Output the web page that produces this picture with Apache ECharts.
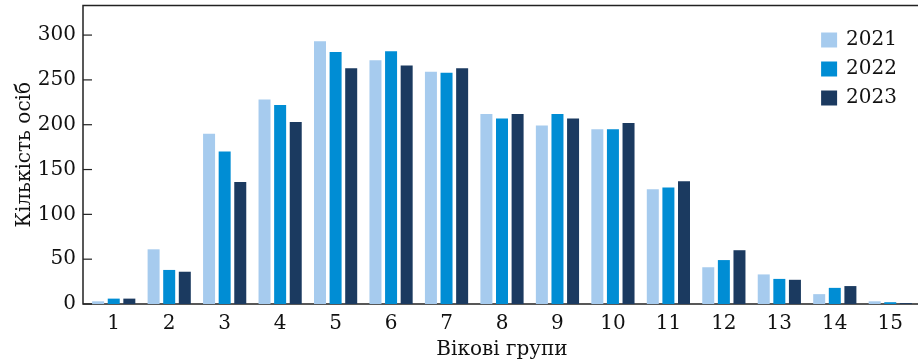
<!DOCTYPE html>
<html>
<head>
<meta charset="utf-8">
<script src="https://cdn.jsdelivr.net/npm/echarts@6/dist/echarts.min.js"></script>
<style>
html,body{margin:0;padding:0;background:#fff;}
#chart{width:918px;height:362px;}
</style>
</head>
<body>
<div id="chart"></div>
<script>
const categories = ['1','2','3','4','5','6','7','8','9','10','11','12','13','14','15'];
const seriesNames = ['2021','2022','2023'];
const values2021 = [3, 61, 190, 228, 293, 272, 259, 212, 199, 195, 128, 41, 33, 11, 3];
const values2022 = [6, 38, 170, 222, 281, 282, 258, 207, 212, 195, 130, 49, 28, 18, 2];
const values2023 = [6, 36, 136, 203, 263, 266, 263, 212, 207, 202, 137, 60, 27, 20, 1];
const colors = ['#A6CBEE', '#008DD4', '#1B3A60'];
const yTicks = [0, 50, 100, 150, 200, 250, 300];

const FONT = 'DejaVu Serif';
const FS = 20;
const chart = echarts.init(document.getElementById('chart'), null, {renderer: 'canvas'});
const allValues = [values2021, values2022, values2023];

chart.setOption({
  animation: false,
  backgroundColor: '#fff',
  textStyle: {fontFamily: FONT, color: '#111'},
  grid: {left: 86, right: 0, top: 5.5, bottom: 58, containLabel: false, outerBoundsMode: 'none'},
  legend: {
    orient: 'vertical',
    right: 16,
    top: 25,
    itemWidth: 16,
    itemHeight: 15,
    itemGap: 9,
    icon: 'rect',
    data: seriesNames,
    textStyle: {fontFamily: FONT, fontSize: FS, color: '#111', padding: [0, 0, 0, 4]}
  },
  xAxis: {
    type: 'category',
    data: categories,
    name: 'Вікові групи',
    nameLocation: 'middle',
    nameGap: 36,
    nameMoveOverlap: false,
    nameTextStyle: {fontFamily: FONT, fontSize: FS, color: '#111'},
    axisLine: {show: false},
    axisTick: {show: false},
    axisLabel: {fontFamily: FONT, fontSize: FS, color: '#111', margin: 10}
  },
  yAxis: {
    type: 'value',
    min: 0,
    max: 333,
    interval: 50,
    name: 'Кількість осіб',
    nameLocation: 'middle',
    nameGap: 48,
    nameMoveOverlap: false,
    nameTextStyle: {fontFamily: FONT, fontSize: FS, color: '#111'},
    offset: 3,
    axisLine: {show: false},
    axisTick: {show: false},
    splitLine: {show: false},
    axisLabel: {
      fontFamily: FONT, fontSize: FS, color: '#111', margin: 7,
      formatter: v => (yTicks.indexOf(v) >= 0 ? String(v) : '')
    }
  },
  series: seriesNames.map((n, i) => ({
    name: n,
    type: 'bar',
    data: allValues[i],
    barWidth: 12,
    barGap: '30%',
    itemStyle: {color: colors[i]}
  }))
});

function drawFrame() {
  const left = 83, right = 918;
  const y0 = chart.convertToPixel({yAxisIndex: 0}, 0);
  const yTop = chart.convertToPixel({yAxisIndex: 0}, 333);
  const els = [
    {type: 'polyline', shape: {points: [[right, yTop], [left, yTop], [left, y0], [right, y0]]},
     style: {stroke: '#222', lineWidth: 1.5, fill: null}, silent: true}
  ];
  yTicks.forEach(t => {
    const y = chart.convertToPixel({yAxisIndex: 0}, t);
    els.push({type: 'line', shape: {x1: left, y1: y, x2: left + 9, y2: y},
      style: {stroke: '#222', lineWidth: 1.2}, silent: true});
  });
  chart.setOption({graphic: {elements: els}});
}
drawFrame();
</script>
</body>
</html>
